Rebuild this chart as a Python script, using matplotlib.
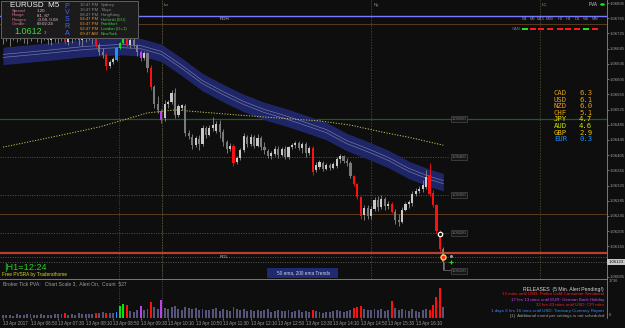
import matplotlib
matplotlib.use("Agg")
import matplotlib.pyplot as plt
from matplotlib.patches import Rectangle

plt.rcParams["font.family"] = ["Liberation Sans", "DejaVu Sans"]

W, H = 625, 328
BG = "#0e0e0e"

# ---------------- data ----------------
opens = [1.06713, 1.06718, 1.06713, 1.06721, 1.06716, 1.06724, 1.06718, 1.06710, 1.06718, 1.06726,
         1.06721, 1.06713, 1.06721, 1.06716, 1.06708, 1.06718, 1.06713, 1.06721, 1.06716, 1.06703,
         1.06713, 1.06721, 1.06716, 1.06708, 1.06718, 1.06724, 1.06716, 1.06710, 1.06695, 1.06676,
         1.06668, 1.06639, 1.06650, 1.06655, 1.06687, 1.06700, 1.06713, 1.06695, 1.06708, 1.06695,
         1.06676, 1.06660, 1.06674, 1.06634, 1.06584, 1.06539, 1.06521, 1.06502, 1.06539, 1.06545,
         1.06568, 1.06510, 1.06529, 1.06534, 1.06463, 1.06452, 1.06431, 1.06447, 1.06434, 1.06476,
         1.06458, 1.06476, 1.06468, 1.06487, 1.06466, 1.06439, 1.06421, 1.06429, 1.06387, 1.06397,
         1.06418, 1.06452, 1.06434, 1.06452, 1.06429, 1.06450, 1.06426, 1.06416, 1.06402, 1.06408,
         1.06421, 1.06405, 1.06421, 1.06400, 1.06426, 1.06431, 1.06437, 1.06424, 1.06434, 1.06410,
         1.06424, 1.06366, 1.06374, 1.06384, 1.06368, 1.06379, 1.06371, 1.06376, 1.06395, 1.06402,
         1.06389, 1.06384, 1.06350, 1.06329, 1.06295, 1.06247, 1.06266, 1.06245, 1.06263, 1.06287,
         1.06268, 1.06289, 1.06271, 1.06276, 1.06255, 1.06234, 1.06229, 1.06260, 1.06276, 1.06279,
         1.06302, 1.06310, 1.06316, 1.06321, 1.06352, 1.06305, 1.06273, 1.06202, 1.06158]
highs = [1.06726, 1.06729, 1.06724, 1.06731, 1.06726, 1.06734, 1.06729, 1.06724, 1.06731, 1.06737,
         1.06731, 1.06726, 1.06734, 1.06729, 1.06724, 1.06731, 1.06726, 1.06734, 1.06726, 1.06721,
         1.06729, 1.06734, 1.06731, 1.06724, 1.06731, 1.06737, 1.06729, 1.06718, 1.06700, 1.06687,
         1.06674, 1.06655, 1.06663, 1.06689, 1.06703, 1.06718, 1.06724, 1.06713, 1.06716, 1.06697,
         1.06681, 1.06679, 1.06676, 1.06642, 1.06589, 1.06560, 1.06526, 1.06550, 1.06550, 1.06576,
         1.06581, 1.06539, 1.06539, 1.06539, 1.06471, 1.06460, 1.06455, 1.06458, 1.06484, 1.06481,
         1.06484, 1.06505, 1.06495, 1.06497, 1.06474, 1.06445, 1.06437, 1.06434, 1.06402, 1.06424,
         1.06463, 1.06458, 1.06460, 1.06458, 1.06460, 1.06455, 1.06439, 1.06421, 1.06416, 1.06429,
         1.06429, 1.06426, 1.06429, 1.06429, 1.06437, 1.06442, 1.06442, 1.06439, 1.06439, 1.06429,
         1.06429, 1.06387, 1.06392, 1.06389, 1.06384, 1.06384, 1.06387, 1.06400, 1.06408, 1.06405,
         1.06397, 1.06389, 1.06352, 1.06331, 1.06297, 1.06273, 1.06273, 1.06271, 1.06295, 1.06297,
         1.06300, 1.06295, 1.06284, 1.06281, 1.06263, 1.06250, 1.06268, 1.06281, 1.06287, 1.06310,
         1.06318, 1.06323, 1.06339, 1.06366, 1.06384, 1.06313, 1.06276, 1.06208, 1.06163]
lows = [1.06697, 1.06705, 1.06692, 1.06708, 1.06703, 1.06708, 1.06700, 1.06697, 1.06705, 1.06713,
        1.06703, 1.06700, 1.06708, 1.06697, 1.06695, 1.06703, 1.06700, 1.06705, 1.06697, 1.06695,
        1.06700, 1.06708, 1.06695, 1.06692, 1.06703, 1.06708, 1.06697, 1.06689, 1.06668, 1.06660,
        1.06629, 1.06634, 1.06645, 1.06652, 1.06684, 1.06697, 1.06689, 1.06687, 1.06689, 1.06666,
        1.06652, 1.06655, 1.06624, 1.06576, 1.06529, 1.06516, 1.06489, 1.06495, 1.06529, 1.06539,
        1.06502, 1.06505, 1.06524, 1.06455, 1.06447, 1.06421, 1.06426, 1.06418, 1.06429, 1.06450,
        1.06455, 1.06468, 1.06463, 1.06450, 1.06429, 1.06410, 1.06416, 1.06376, 1.06381, 1.06392,
        1.06413, 1.06426, 1.06429, 1.06424, 1.06426, 1.06418, 1.06408, 1.06397, 1.06395, 1.06402,
        1.06397, 1.06402, 1.06395, 1.06395, 1.06421, 1.06424, 1.06418, 1.06410, 1.06400, 1.06405,
        1.06352, 1.06360, 1.06368, 1.06363, 1.06366, 1.06366, 1.06368, 1.06371, 1.06384, 1.06384,
        1.06376, 1.06345, 1.06323, 1.06289, 1.06237, 1.06234, 1.06237, 1.06237, 1.06258, 1.06258,
        1.06263, 1.06260, 1.06263, 1.06252, 1.06223, 1.06218, 1.06226, 1.06258, 1.06266, 1.06271,
        1.06297, 1.06305, 1.06308, 1.06316, 1.06297, 1.06268, 1.06200, 1.06150, 1.06102]
closes = [1.06718, 1.06713, 1.06721, 1.06716, 1.06724, 1.06718, 1.06710, 1.06718, 1.06726, 1.06721,
          1.06713, 1.06721, 1.06716, 1.06708, 1.06718, 1.06713, 1.06721, 1.06716, 1.06703, 1.06713,
          1.06721, 1.06716, 1.06708, 1.06718, 1.06724, 1.06716, 1.06710, 1.06695, 1.06676, 1.06668,
          1.06639, 1.06650, 1.06658, 1.06687, 1.06700, 1.06713, 1.06695, 1.06708, 1.06695, 1.06676,
          1.06660, 1.06674, 1.06634, 1.06584, 1.06539, 1.06524, 1.06497, 1.06539, 1.06545, 1.06568,
          1.06510, 1.06534, 1.06537, 1.06463, 1.06455, 1.06431, 1.06450, 1.06434, 1.06476, 1.06458,
          1.06476, 1.06484, 1.06487, 1.06466, 1.06439, 1.06421, 1.06429, 1.06384, 1.06397, 1.06418,
          1.06455, 1.06434, 1.06452, 1.06429, 1.06450, 1.06426, 1.06418, 1.06402, 1.06410, 1.06421,
          1.06405, 1.06421, 1.06400, 1.06426, 1.06431, 1.06437, 1.06424, 1.06434, 1.06410, 1.06424,
          1.06360, 1.06379, 1.06387, 1.06368, 1.06379, 1.06371, 1.06381, 1.06395, 1.06402, 1.06389,
          1.06384, 1.06350, 1.06329, 1.06295, 1.06245, 1.06266, 1.06245, 1.06263, 1.06287, 1.06268,
          1.06289, 1.06271, 1.06276, 1.06255, 1.06234, 1.06229, 1.06260, 1.06276, 1.06281, 1.06302,
          1.06310, 1.06316, 1.06326, 1.06347, 1.06302, 1.06273, 1.06205, 1.06158, 1.06123]
volumes = [150, 130, 170, 120, 190, 160, 140, 180, 200, 150, 130, 210, 170, 160, 140, 190, 220, 180,
           230, 170, 200, 160, 240, 190, 210, 180, 220, 260, 240, 280, 260, 240, 270, 310, 600, 700,
           650, 330, 300, 420, 610, 380, 460, 800, 520, 470, 900, 480, 430, 520, 600, 450, 400, 560,
           480, 430, 510, 390, 470, 420, 380, 440, 500, 370, 460, 410, 350, 520, 430, 380, 450, 340,
           400, 360, 420, 330, 380, 440, 310, 360, 400, 330, 370, 420, 300, 350, 390, 320, 360, 280,
           380, 340, 300, 260, 320, 280, 350, 400, 330, 290, 360, 420, 500, 560, 580, 450, 380, 410,
           470, 390, 430, 360, 400, 850, 480, 420, 460, 380, 340, 430, 370, 320, 390, 440, 400, 650,
           1040, 1490, 560]

# PVSRA classes (bar indices)
climax_bear = [18, 27, 30, 36, 43, 67, 90, 102, 103, 104, 113, 124, 125, 126, 127]
climax_bull = [34, 35]
rising_bull = [33]
rising_bear = [40, 46]

ema50_bars = [0, 12, 24, 34, 40, 46, 52, 58, 64, 70, 76, 82, 88, 94, 100, 106, 112, 118, 124, 128]
ema50_mid = [1.06666, 1.06676, 1.06687, 1.06692, 1.06689, 1.06674, 1.06637, 1.06597, 1.06568, 1.06542,
             1.06521, 1.06505, 1.06487, 1.06468, 1.06439, 1.06418, 1.06395, 1.06366, 1.06345, 1.06334]
ema50_half = 0.00023
ema200_bars = [0, 14, 28, 42, 50, 58, 69, 81, 92, 101, 110, 119, 128]
ema200 = [1.06426, 1.06452, 1.06479, 1.06516, 1.06524, 1.06518, 1.06510, 1.06502, 1.06495, 1.06484,
          1.06466, 1.06450, 1.06431]

time_label_bars = [0, 8, 16, 24, 32, 40, 48, 56, 64, 72, 80, 88, 96, 104, 112, 120]
time_labels = ["13 Apr 2017", "13 Apr 06:50", "13 Apr 07:30", "13 Apr 08:10", "13 Apr 08:50",
               "13 Apr 09:30", "13 Apr 10:10", "13 Apr 10:50", "13 Apr 11:30", "13 Apr 12:10",
               "13 Apr 12:50", "13 Apr 13:30", "13 Apr 14:10", "13 Apr 14:50", "13 Apr 15:30",
               "13 Apr 16:10"]
price_ticks = [1.06805, 1.06765, 1.06725, 1.06685, 1.06645, 1.06605, 1.06565, 1.06525, 1.06485,
               1.06445, 1.06405, 1.06365, 1.06325, 1.06285, 1.06245, 1.06205, 1.06165, 1.06085]
bid = 1.06123
vol_max_label = 1736

rdh, rdl = 1.06771, 1.06147
quarter_levels = [1.06750, 1.06250]
round_levels = [1.06400, 1.06300, 1.06200]
green_level = 1.06500
ask_line = 1.06137

separator_bars = [33.7, 46.2]
session_bars = [46.2, 107.0, 156.1]
session_names = ["Lo", "Ny", "LC"]

strength_ccy = ["CAD", "USD", "NZD", "CHF", "JPY", "AUD", "GBP", "EUR"]
strength_val = [6.3, 6.1, 6.0, 5.1, 4.7, 4.6, 2.9, 0.3]
strength_col = ["#e8a010", "#e8a010", "#e8a010", "#e8a010", "#e8e000", "#c8e800", "#e8c000", "#1e90ff"]

tf_names = ["M1", "M5", "M15", "M30", "H1", "H4", "D1", "W1", "MN"]
tf_up = [True, False, False, False, False, False, False, True, False]

sessions_time = ["10:47 PM", "10:47 PM", "08:47 PM", "04:47 PM", "03:47 PM", "02:47 PM", "09:47 AM"]
sessions_city = ["Sydney", "Tokyo", "HongKong", "Helsinki (EU)", "Frankfurt", "London (G+1)", "NewYork"]
sessions_open = [False, False, False, True, True, True, True]

releases = [("RELEASES  (5 Min. Alert Pending!)", "#d8d8d8"),
            ("13 mins until USD: Prelim UoM Consumer Sentiment", "#ff2020"),
            ("17 hrs 13 mins until EUR: German Bank Holiday", "#d040ff"),
            ("22 hrs 43 mins until USD: CPI m/m", "#ff2020"),
            ("1 days 6 hrs 16 mins until USD: Treasury Currency Report", "#3a8cff"),
            ("[1]  Additional event per settings is not scheduled", "#a0a0a0")]


def fx(x):
    return x / W


def fy(y):
    return 1 - y / H


fig = plt.figure(figsize=(W / 100, H / 100), dpi=100, facecolor=BG)
ax = fig.add_axes([0, fy(279), fx(607), 279 / H], facecolor=BG)
axv = fig.add_axes([0, fy(318), fx(607), 39 / H], facecolor=BG, sharex=ax)

n = len(closes)
xs = list(range(n))


def bar_colour(i):
    if i in climax_bear:
        return "#ff1010"
    if i in climax_bull:
        return "#10e010"
    if i in rising_bull:
        return "#2090ff"
    if i in rising_bear:
        return "#c040f0"
    return None


# ----- price panel -----
ax.fill_between(ema50_bars, [m - ema50_half for m in ema50_mid], [m + ema50_half for m in ema50_mid],
                color="#1f2668", lw=0, zorder=1)
ax.plot(ema50_bars, [m + 0.00004 for m in ema50_mid], color="#7c7cac", lw=0.45, zorder=1.1)
ax.plot(ema50_bars, [m - 0.00004 for m in ema50_mid], color="#7c7cac", lw=0.45, zorder=1.1)
ax.plot(ema200_bars, ema200, color="#c8c850", lw=0.7, ls=(0, (1.2, 1.6)), zorder=1.2)

ax.axhline(rdh, color="#7a78ff", lw=1.0, zorder=0.8)
for q in quarter_levels:
    ax.axhline(q, color="#5a3c1e", lw=0.7, zorder=0.8)
ax.axhline(green_level, color="#1f5a1f", lw=0.9, zorder=0.8)
ax.axhline(rdl, color="#b84030", lw=1.6, zorder=0.8)
ax.axhline(ask_line, color="#707070", lw=0.5, ls=(0, (1.5, 2)), zorder=0.8)
ax.axhline(bid, color="#707070", lw=0.5, ls=(0, (1.5, 2)), zorder=0.8)
for lv in round_levels:
    ax.plot([-1, 129.5], [lv, lv], color="#6a6a6a", lw=0.5, ls=(0, (1.5, 2)), zorder=0.8)

for b in separator_bars:
    for a in (ax, axv):
        a.axvline(b, color="#5a5a5a", lw=0.5, ls=(0, (1.5, 2)), zorder=0.5)
for b, name in zip(session_bars, session_names):
    ax.axvline(b, color="#5c5a3c", lw=0.5, ls=(0, (2, 2)), zorder=0.5)
    ax.text(b + 0.6, 1.06800, name, color="#9a9060", fontsize=3.2, va="center", ha="left")

ax.text(63, 1.06763, "RDH", color="#c8c8c8", fontsize=3.2, va="center")
ax.text(63, 1.06137, "RDL", color="#c8c8c8", fontsize=3.2, va="center")

for i in xs:
    o, h, l, c = opens[i], highs[i], lows[i], closes[i]
    col = bar_colour(i)
    if col is None:
        col = "#c8c8c8" if c >= o else "#7a7a7a"
    wick = "#8a8a8a" if bar_colour(i) is None else col
    ax.vlines(i, l, h, color=wick, lw=0.6, zorder=3)
    lo_b = min(o, c)
    ht = max(abs(c - o), 0.000025)
    ax.bar(i, ht, 0.62, bottom=lo_b, color=col, lw=0, zorder=4)

# markers near the last bars
ax.plot(127, 1.06197, "o", ms=3.2, mfc="#101010", mec="white", mew=0.9, zorder=6)
ax.plot(128, 1.06137, "o", ms=3.6, mfc="#ff2040", mec="#ffe020", mew=1.0, zorder=6)
ax.plot(130.2, 1.06124, "+", ms=2.4, color="#20e020", mew=0.8, zorder=6)
ax.plot(130.2, 1.06140, "o", ms=1.2, color="#9a9a9a", zorder=6)
ax.plot([128.3, 128.3, 130.5], [1.06124, 1.06102, 1.06102], color="#7a7a7a", lw=0.5, zorder=5)

for lv in round_levels + [green_level, 1.06100]:
    ax.text(130.4, lv, f"{lv:.5f}", color="#7c7c7c", fontsize=3.0, va="center", ha="left",
            bbox=dict(boxstyle="square,pad=0.25", fc="#161616", ec="#4a4a4a", lw=0.5), zorder=6)

ax.set_xlim(-0.872, 175.58)
ax.set_ylim(1.060792, 1.06813)
ax.set_yticks(price_ticks + [bid])
ax.set_yticklabels([f"{p:.5f}" for p in price_ticks] + [""])
ax.yaxis.tick_right()
ax.tick_params(axis="y", colors="#9a9a9a", labelsize=3.1, length=1.2, width=0.5, pad=0.6)
ax.tick_params(axis="x", bottom=False, labelbottom=False)
for s in ("top", "left", "bottom"):
    ax.spines[s].set_visible(False)
ax.spines["right"].set_color("#8a8a8a")
ax.spines["right"].set_linewidth(0.6)
ax.text(1.002, bid, f"{bid:.5f}", transform=ax.get_yaxis_transform(), color="#101010",
        fontsize=3.1, va="center", ha="left",
        bbox=dict(boxstyle="square,pad=0.25", fc="#c8c8c8", ec="none"))

# currency strength
for k, (cc, v, col) in enumerate(zip(strength_ccy, strength_val, strength_col)):
    yy = 93 + k * 6.6
    fig.text(fx(554), fy(yy), cc, color=col, fontsize=5.2, family="DejaVu Sans Mono", va="center")
    fig.text(fx(579), fy(yy), f"{v:.1f}", color=col, fontsize=5.2, family="DejaVu Sans Mono", va="center")

# timeframe row
tf_x = [525, 533, 541, 550, 560, 568, 577, 586, 595]
for name, up, x in zip(tf_names, tf_up, tf_x):
    fig.text(fx(x), fy(19.5), name, color="#7f90b0", fontsize=3.0, ha="center", va="center")
    fig.add_artist(Rectangle((fx(x - 3), fy(29.6)), 6 / W, 1.3 / H, transform=fig.transFigure,
                             fc="#20e020" if up else "#ff1818", ec="none"))
fig.text(fx(516), fy(29), "CAN", color="#5f80b0", fontsize=3.0, ha="center", va="center")
fig.text(fx(598), fy(4.5), "PVA", color="#d0d0d0", fontsize=3.4, ha="right", va="center")
fig.add_artist(plt.Circle((fx(602.5), fy(4.5)), 2.4 / W, transform=fig.transFigure, fc="#20e020", ec="none"))

# info box
fig.add_artist(Rectangle((fx(0.5), fy(37.5)), 137 / W, 37 / H, transform=fig.transFigure,
                         fc="#1b1b1b", ec="#606060", lw=0.7, zorder=5))
fig.text(fx(10), fy(5.5), "EURUSD  M5", color="#f0f0f0", fontsize=5.8, va="center", zorder=6)
info_lab = ["Spread", "Range", "Ranges", "Candle"]
info_val = ["1.20", "81, 87", "-0.08, 0.08", "00:02:24"]
for k, (lab, val) in enumerate(zip(info_lab, info_val)):
    yy = 10.6 + k * 4.5
    fig.text(fx(12), fy(yy), lab, color="#d07090", fontsize=3.2, va="center", zorder=6)
    fig.text(fx(37), fy(yy), val, color="#e0c0c8", fontsize=3.2, va="center", zorder=6)
fig.text(fx(14), fy(32), "1.0612", color="#3cdc3c", fontsize=6.5, va="center", zorder=6)
fig.text(fx(44), fy(32.5), "3", color="#a0a0a0", fontsize=3.2, va="center", zorder=6)
for k, ch in enumerate("PVSRA"):
    fig.text(fx(67), fy(6 + k * 6.8), ch, color="#4a64f0", fontsize=5.0, ha="center", va="center", zorder=6)
for k, (t, c, op) in enumerate(zip(sessions_time, sessions_city, sessions_open)):
    yy = 4.8 + k * 4.9
    fig.text(fx(80), fy(yy), t, color="#e89030" if op else "#8a8a8a", fontsize=3.1, va="center", zorder=6)
    fig.text(fx(101), fy(yy), c, color="#40d040" if op else "#8a8a8a", fontsize=3.1, va="center", zorder=6)

# bottom-left labels of the price panel
fig.text(fx(4), fy(268), "|H1=12:24", color="#20d020", fontsize=6.6, va="center")
fig.text(fx(2), fy(274.5), "Free PVSRA by Traderathome", color="#d8d820", fontsize=3.4, va="center")
fig.add_artist(Rectangle((fx(267), fy(277.5)), 71 / W, 9.5 / H, transform=fig.transFigure,
                         fc="#202a70", ec="none"))
fig.text(fx(277), fy(272.8), "50 ema, 200 ema Trends", color="#d0d0e8", fontsize=3.4, va="center")

# ----- volume panel -----
vcols = []
for i in xs:
    col = bar_colour(i)
    vcols.append(col if col else "#55557a")
axv.bar(xs, volumes, 0.55, color=vcols, lw=0)
axv.set_ylim(0, 1930)
axv.set_yticks([])
for s in ("top", "left", "bottom"):
    axv.spines[s].set_visible(False)
axv.spines["right"].set_color("#8a8a8a")
axv.spines["right"].set_linewidth(0.6)
axv.set_xticks(time_label_bars)
axv.set_xticklabels(time_labels, ha="left")
axv.tick_params(axis="x", colors="#9a9a9a", labelsize=3.3, length=1.5, width=0.5, pad=1)
fig.text(fx(609), fy(281.5), str(vol_max_label), color="#9a9a9a", fontsize=3.1, va="center")
fig.text(fx(609), fy(315.5), "0", color="#9a9a9a", fontsize=3.1, va="center")
fig.add_artist(plt.Line2D([0, fx(607)], [fy(279), fy(279)], color="#8a8a8a", lw=0.6))

fig.text(fx(3), fy(283.5), "Broker Tick PVA:   Chart Scale 3,  Alert On,  Count  527",
         color="#a0a0a0", fontsize=3.6, va="center")
for k, (txt, col) in enumerate(releases):
    yy = 289 + k * 5.4
    fig.text(fx(604), fy(yy), txt, color=col, fontsize=3.2 if k else 3.7, ha="right", va="center")

fig.savefig("out.png", dpi=100, facecolor=BG)
